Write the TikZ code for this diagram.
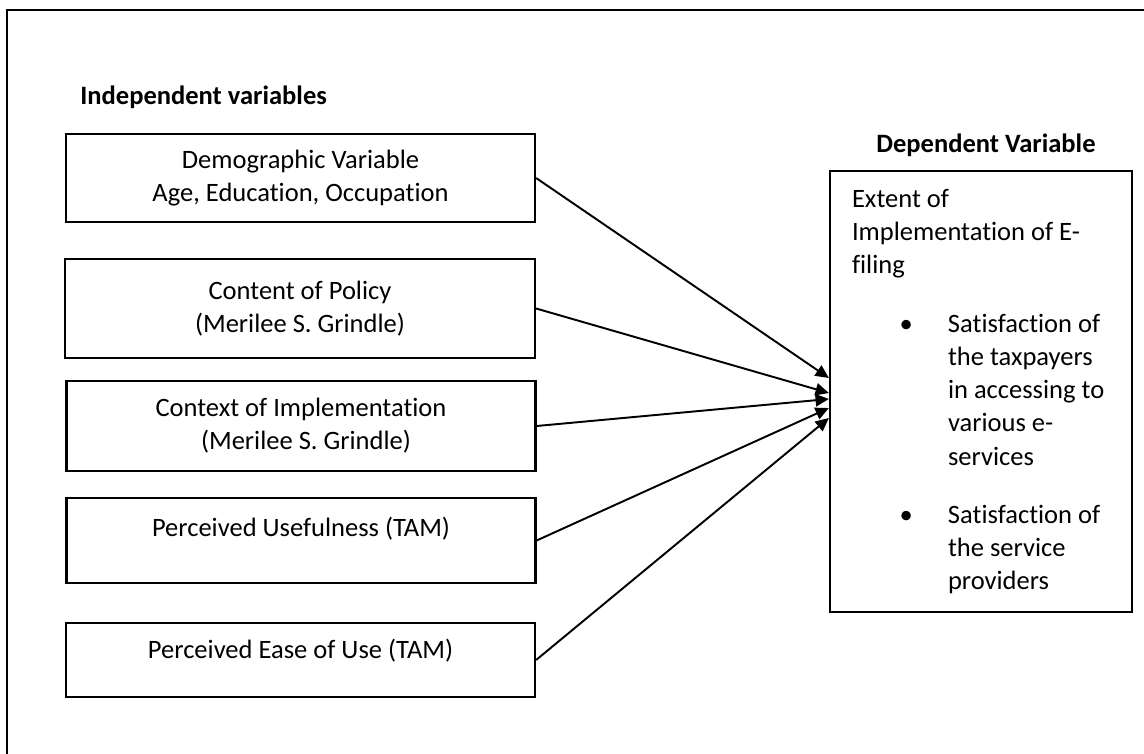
\documentclass[tikz,border=0pt]{standalone}
\usepackage{fontspec}
\setmainfont{Carlito}[Ligatures={NoCommon}]
\usetikzlibrary{arrows.meta}

\newcommand{\diagfont}{\fontsize{15.1}{18.8}\selectfont}
\newcommand{\bulletline}{\makebox[1.92cm][l]{\hspace{0.95cm}\textbullet}}
\newcommand{\bulletindent}{\hspace*{1.92cm}}

\tikzset{
	varbox/.style={draw, line width=1.3pt, minimum width=9.38cm, align=center, inner sep=0pt, font=\diagfont},
	depbox/.style={draw, line width=1.3pt, minimum width=6.04cm, minimum height=8.82cm, text width=5.16cm, inner xsep=0.44cm, align=flush left, font=\diagfont},
	headtxt/.style={inner sep=0pt, font=\diagfont\bfseries},
	link/.style={line width=1.1pt, -{Triangle[length=7.6pt,width=7pt]}}
}

\begin{document}
\begin{tikzpicture}[x=0.02cm, y=-0.02cm]
	\useasboundingbox (0,0) rectangle (1144,754);
	\draw[line width=1.1pt] (1150,10) -| (7,760);

	\node[headtxt, anchor=west] (indeptitle) at (80,97) {Independent variables};
	\node[headtxt] (deptitle) at (986,145) {Dependent Variable};

	\node[varbox, minimum height=1.76cm] (demo) at (300.5,178) {Demographic Variable\\Age, Education, Occupation};
	\node[varbox, minimum width=9.4cm, minimum height=1.98cm] (policy) at (300,308.5) {Content of Policy\\(Merilee S. Grindle)};
	\node[varbox, minimum height=1.8cm] (context) at (301,426) {Context of Implementation\\\hspace*{0.2cm}(Merilee S. Grindle)};
	\node[varbox, minimum height=1.7cm, text depth=16pt] (useful) at (301,540.5) {Perceived Usefulness (TAM)};
	\node[varbox, minimum height=1.48cm, text depth=13pt] (ease) at (300.5,660) {Perceived Ease of Use (TAM)};

	\node[depbox] (dep) at (981,391.5) {Extent of\\Implementation of E-\\filing\\[0.52cm]
		\bulletline Satisfaction of\\
		\bulletindent the taxpayers\\
		\bulletindent in accessing to\\
		\bulletindent various e-\\
		\bulletindent services\\[0.5cm]
		\bulletline Satisfaction of\\
		\bulletindent the service\\
		\bulletindent providers};

	\foreach \src/\ty in {demo/378, policy/393, context/399, useful/408, ease/418}
		\draw[link] (\src.east) -- (dep.west |- 0,\ty);
\end{tikzpicture}
\end{document}
